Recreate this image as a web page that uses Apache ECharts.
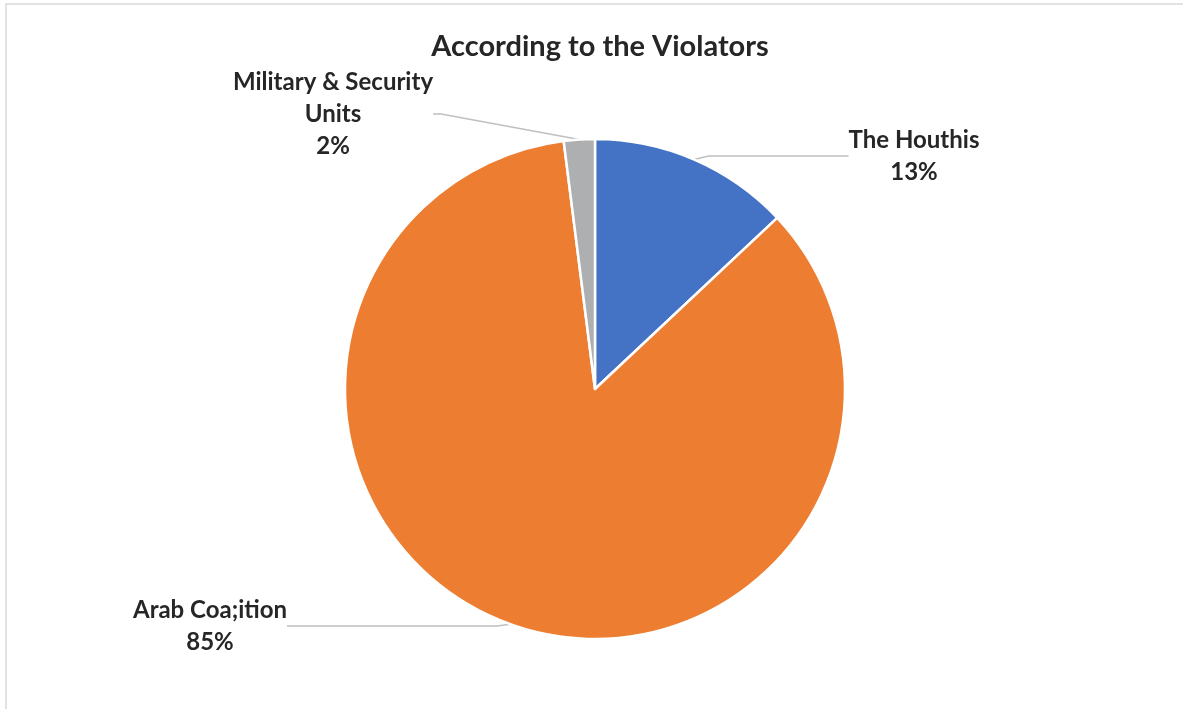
<!DOCTYPE html>
<html>
<head>
<meta charset="utf-8">
<script src="https://cdn.jsdelivr.net/npm/echarts@6/dist/echarts.min.js"></script>
<style>
html,body{margin:0;padding:0;background:#fff;}
#chart{width:1183px;height:709px;}
</style>
</head>
<body>
<div id="chart"></div>
<script>
const categories = ['The Houthis', 'Arab Coa;ition', 'Military & Security\nUnits'];
const values = [13, 85, 2];
const colors = ['#4472C4', '#ED7D31', '#AEAFB1'];
const titleText = 'According to the Violators';

// label placement (centre of each label block) and guide-line run length
const labelPos = [
  { x: 914, y: 156, len2: 140 },
  { x: 210, y: 626, len2: 210 },
  { x: 333, y: 114, len2: 8 }
];

const chart = echarts.init(document.getElementById('chart'), null, { renderer: 'canvas' });
const option = {
  backgroundColor: '#ffffff',
  animation: false,
  title: {
    text: titleText,
    left: 595,
    top: 27,
    textAlign: 'center',
    textStyle: { fontFamily: 'Lato', fontWeight: 'bold', fontSize: 29, color: '#262626' }
  },
  graphic: [{
    type: 'rect',
    shape: { x: 6, y: 4, width: 1300, height: 800 },
    style: { fill: 'none', stroke: '#D9D9D9', lineWidth: 1.5 },
    silent: true
  }],
  series: [{
    type: 'pie',
    center: [595, 389],
    radius: [0, 250],
    startAngle: 90,
    clockwise: true,
    itemStyle: { borderColor: '#ffffff', borderWidth: 2.5 },
    label: {
      show: true,
      formatter: p => p.name + '\n' + p.percent.toFixed(0) + '%',
      fontFamily: 'Lato',
      fontWeight: 'bold',
      fontSize: 24,
      lineHeight: 32,
      color: '#262626',
      align: 'center'
    },
    labelLine: {
      show: true,
      length: 5,
      length2: 10,
      lineStyle: { color: '#BFBFBF', width: 1.5 }
    },
    labelLayout: function (params) {
      const p = labelPos[params.dataIndex];
      return { x: p.x, y: p.y, align: 'center', verticalAlign: 'middle' };
    },
    data: categories.map((c, i) => ({
      name: c,
      value: values[i],
      itemStyle: { color: colors[i] },
      labelLine: { length2: labelPos[i].len2 }
    }))
  }]
};
chart.setOption(option);
</script>
</body>
</html>
